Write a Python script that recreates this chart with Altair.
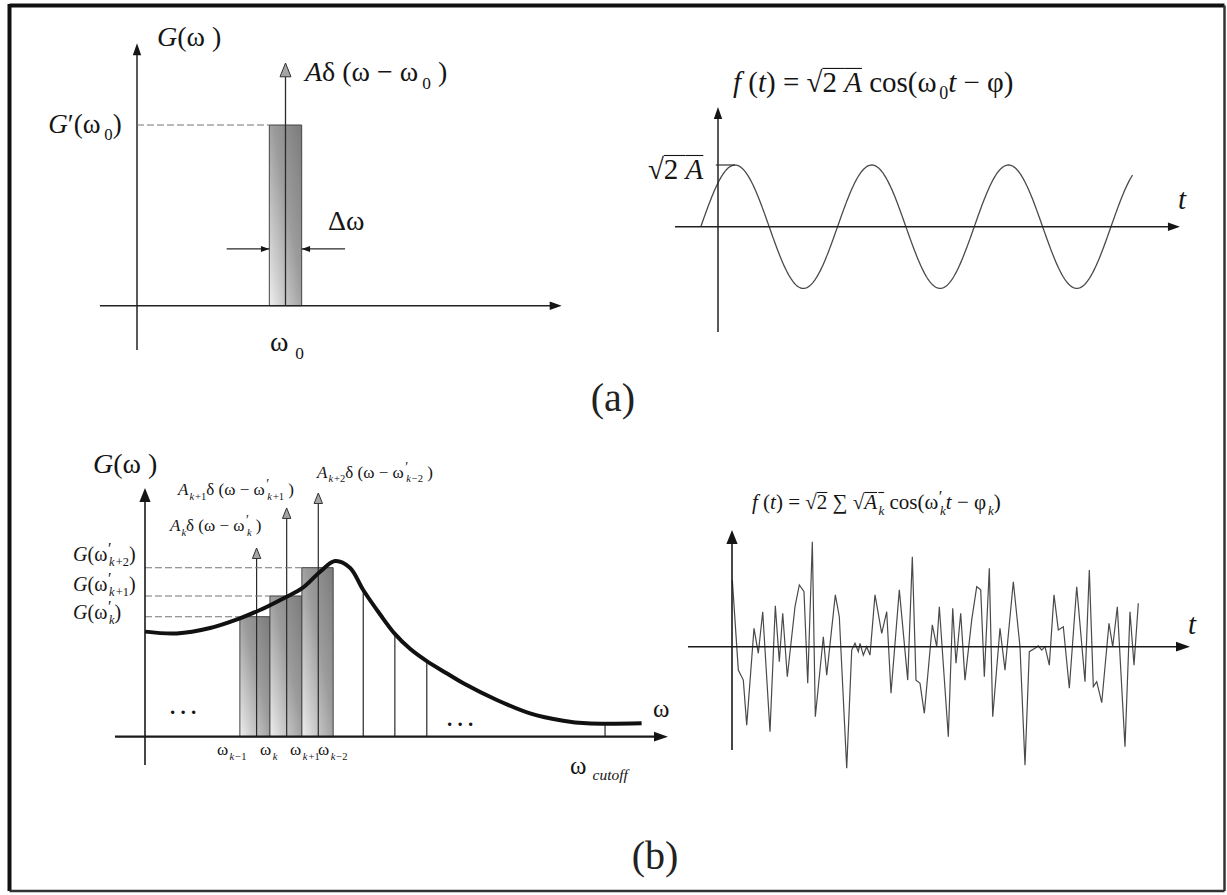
import altair as alt
import pandas as pd

FONT = "Liberation Serif, Tinos, Times New Roman, DejaVu Serif, serif"
INK = "#151515"

# ---------------- (a) left: spectral line of one harmonic ----------------
A_OMEGA0 = 1.0            # ω0
A_DOMEGA = 0.218          # Δω, band width around ω0
A_GPRIME = 1.0            # G'(ω0)
A_DELTA_TIP = 1.343       # top of the arrow Aδ(ω − ω0)
A_XAXIS = [-0.25, 2.86]
A_YAXIS = [-0.245, 1.453]
A_DW_LEVEL = 0.314        # height of the Δω markers
A_DW_TAILS = [0.604, 1.401]

# ---------------- (a) right: the harmonic in time ----------------
B_AMP = 1.0               # √2A
B_W0 = 1.0                # ω0
B_PHI = 0.781             # φ
B_T = [-0.79, 19.07]
B_XAXIS = [-1.976, 21.23]
B_YAXIS = [-1.707, 1.94]

# ---------------- (b) left: discretised spectral density ----------------
C_CURVE_W = [0.0, 1.02, 2.10, 3.06, 3.71, 4.57, 5.07, 5.65, 6.13, 6.61, 7.04, 7.58,
             8.06, 8.55, 9.09, 9.73, 10.27, 11.35, 12.42, 13.49, 14.25, 16.02]
C_CURVE_G = [0.598, 0.588, 0.619, 0.674, 0.721, 0.797, 0.845, 0.939, 1.000, 0.962, 0.835, 0.697,
             0.585, 0.500, 0.430, 0.361, 0.304, 0.209, 0.133, 0.091, 0.076, 0.076]
C_EDGES = [3.06, 4.03, 5.06, 6.07]           # ω_{k-1}, ω_k, ω_{k+1}, ω_{k-2}
C_BAR_G = [0.683, 0.801, 0.962]             # G(ω'_k), G(ω'_{k+1}), G(ω'_{k+2})
C_DELTA_W = [3.60, 4.57, 5.59]               # ω'_k, ω'_{k+1}, ω'_{k+2}
C_DELTA_TIP = [1.074, 1.302, 1.387]
C_STRIP_W = [7.04, 8.06, 9.09]
C_STRIP_G = [0.835, 0.585, 0.430]
C_CUTOFF = 14.84
C_CUTOFF_G = 0.076
C_XAXIS = [-0.968, 16.87]
C_YAXIS = [-0.161, 1.415]

# ---------------- (b) right: sample of the random signal ----------------
D_T = [0.08, 1.58, 2.83, 3.68, 5.5, 6.58, 7.68, 9.5, 10.83, 11.83, 12.68, 13.83, 15.75, 16.83,
       18.0, 18.93, 20.08, 20.83, 22.83, 23.68, 25.83, 26.83, 28.68, 29.93, 30.75, 31.58, 32.0,
       32.83, 33.68, 34.5, 35.75, 37.43, 38.68, 39.75, 41.83, 43.93, 45.08, 46.0, 47.0, 48.08,
       50.08, 51.18, 51.83, 54.08, 55.18, 56.0, 57.18, 58.25, 59.93, 61.18, 62.18, 63.08, 64.33,
       65.18, 67.0, 68.25, 70.33, 72.0, 73.25, 74.33, 75.75, 76.58, 77.43, 78.25, 79.33, 80.5,
       81.58, 82.83, 84.33, 86.18, 88.25, 89.33, 90.33, 91.18, 92.43, 94.25, 95.18, 96.33, 98.25,
       99.5, 100.5, 101.58]
D_F = [3.34, -1.17, -1.67, -3.92, 0.92, -0.33, 1.75, -4.25, 2.04, -0.75, 1.67, -1.5, 2.0, 3.09,
       2.75, -1.83, 5.25, -3.5, 0.5, -1.42, 2.59, 1.5, -6.08, -0.17, 0.17, -0.25, 0.17,
       -0.42, 0.0, -0.42, 2.59, 0.67, 1.75, -2.33, 2.84, -1.67, 4.5, -1.67, -1.83, -3.33,
       1.09, 0.0, 2.0, -4.5, 1.92, -0.83, 1.67, -1.67, 1.34, 3.0, 2.84, -1.5, 3.92,
       -3.5, 0.92, -1.17, 3.25, 0.0, -5.92, -0.25, -0.08, 0.04, -0.17, 0.0, -0.92, 2.59,
       0.84, 1.0, -2.08, 3.0, -1.75, 3.84, -2.0, -1.75, -2.8, 1.17, 0.0, 2.0, -5.0,
       1.75, -0.92, 2.17]
D_XAXIS = [-11.0, 114.5]
D_YAXIS = [-5.165, 5.835]

# where each sub-figure sits on the page: origin (px) and px per data unit
PANELS = {
    "page": dict(ox=0.0, oy=0.0, kx=1.0, ky=-1.0),
    "a1": dict(ox=137.0, oy=305.7, kx=148.5, ky=180.7),
    "a2": dict(ox=718.0, oy=226.7, kx=21.76, ky=61.7),
    "b1": dict(ox=145.0, oy=736.7, kx=31.0, ky=175.7),
    "b2": dict(ox=732.0, oy=646.7, kx=4.0, ky=20.0),
}

UP = "M0,0L-0.7,2L0.7,2Z"
RIGHT = "M0,0L-2,-0.7L-2,0.7Z"
LEFT = "M0,0L2,-0.7L2,0.7Z"
UP_WIDE = "M0,0L-0.8,2L0.8,2Z"


def xy(p, xf="x", yf="y"):
    q = PANELS[p]
    sx = alt.Scale(domain=[0, 1], range=[q["ox"], q["ox"] + q["kx"]], nice=False, zero=False)
    sy = alt.Scale(domain=[0, 1], range=[q["oy"], q["oy"] - q["ky"]], nice=False, zero=False)
    return dict(x=alt.X(f"{xf}:Q", scale=sx, axis=None), y=alt.Y(f"{yf}:Q", scale=sy, axis=None))


def segs(p, rows, **mark):
    df = pd.DataFrame(rows, columns=["x", "y", "x2", "y2"])
    enc = xy(p)
    enc["x2"] = alt.X2("x2:Q")
    enc["y2"] = alt.Y2("y2:Q")
    return alt.Chart(df).mark_rule(**mark).encode(**enc)


def heads(p, pts, shape, size, **mark):
    df = pd.DataFrame(pts, columns=["x", "y"])
    style = dict(color=INK, opacity=1)
    style.update(mark)
    return alt.Chart(df).mark_point(shape=shape, size=size, filled=True, **style).encode(**xy(p))


# advance widths (em) of the serif face, used to set formula pieces side by side
W_REG = {" ": 0.25, "(": 0.333, ")": 0.333, "G": 0.722, "A": 0.722, "ω": 0.686, "δ": 0.5,
         "Δ": 0.612, "−": 0.564, "=": 0.564, "+": 0.564, "0": 0.5, "1": 0.5, "2": 0.5,
         "k": 0.5, "√": 0.549, "∑": 0.713, "φ": 0.6, "c": 0.444, "o": 0.5, "s": 0.389,
         "u": 0.5, "t": 0.278, "f": 0.333, "′": 0.275, ".": 0.25, "a": 0.444, "b": 0.5}
W_IT = {"A": 0.611, "G": 0.722, "f": 0.278, "t": 0.278, "k": 0.444, "c": 0.444, "u": 0.5,
        "o": 0.5}


def adv(text, size, italic):
    tbl = W_IT if italic else W_REG
    return sum(tbl.get(c, W_REG.get(c, 0.5)) for c in text) * size


def formula(p, x, y, runs, size, align="left"):
    """Lay out (text, style) runs: i = italic, b = subscript, p = prime, o = overlined."""
    q = PANELS[p]
    pieces, cur = [], 0.0
    for text, style in runs:
        sub, prime = "b" in style, "p" in style
        s = size * 0.62 if sub else (size * 0.8 if prime else size)
        dy = size * 0.26 if sub else (-size * 0.36 if prime else 0.0)
        if sub:
            cur += size * 0.06
        body = text.strip(" ")
        lead = len(text) - len(text.lstrip(" "))
        trail = len(text) - len(text.rstrip(" "))
        cur += lead * 0.25 * s
        w = adv(body, s, "i" in style)
        pieces.append(dict(dx=cur, dy=dy, size=s, text=body, italic="i" in style,
                           over="o" in style, w=w + trail * 0.25 * s))
        if not prime:
            cur += w + trail * 0.25 * s
    shift = -cur if align == "right" else 0.0
    down = 0.30 * size
    rows, overs = [], []
    for pc in pieces:
        if pc["text"]:
            rows.append(dict(x=x + (pc["dx"] + shift) / q["kx"],
                             y=y - (down + pc["dy"]) / q["ky"],
                             text=pc["text"], size=pc["size"], italic=pc["italic"]))
        if pc["over"]:
            yo = y - (down - 0.80 * size) / q["ky"]
            overs.append((x + (pc["dx"] + shift) / q["kx"],
                          yo, x + (pc["dx"] + shift + pc["w"]) / q["kx"], yo))
    return rows, overs


def texts(p, labels):
    rows, overs = [], []
    for lab in labels:
        r, o = formula(p, *lab)
        rows += r
        overs += o
    df = pd.DataFrame(rows)
    layers = []
    for italic in (False, True):
        part = df[df["italic"] == italic]
        if len(part):
            layers.append(
                alt.Chart(part).mark_text(font=FONT, fontStyle="italic" if italic else "normal",
                                          align="left", baseline="alphabetic", color=INK)
                .encode(text="text:N", size=alt.Size("size:Q", scale=None, legend=None), **xy(p)))
    if overs:
        layers.append(segs(p, overs, color=INK, strokeWidth=1.1))
    return layers


SHADE = alt.Gradient(
    gradient="linear", x1=1, y1=0, x2=0, y2=1,
    stops=[alt.GradientStop(color="#7b7b7b", offset=0),
           alt.GradientStop(color="#9c9c9c", offset=0.45),
           alt.GradientStop(color="#cfcfcf", offset=0.8),
           alt.GradientStop(color="#eeeeee", offset=1)])

# ---------------- (a) left ----------------
lo, hi = A_OMEGA0 - A_DOMEGA / 2, A_OMEGA0 + A_DOMEGA / 2
a1_band = alt.Chart(pd.DataFrame({"x": [lo], "x2": [hi], "y": [0.0], "y2": [A_GPRIME]})).mark_rect(
    fill=SHADE, stroke="#444444", strokeWidth=1).encode(x2="x2:Q", y2="y2:Q", **xy("a1"))
a1 = [
    a1_band,
    segs("a1", [(A_XAXIS[0], 0, A_XAXIS[1] - 0.05, 0), (0, A_YAXIS[0], 0, A_YAXIS[1] - 0.04)],
         color="#222222", strokeWidth=1.5),
    segs("a1", [(A_OMEGA0, 0, A_OMEGA0, A_DELTA_TIP - 0.03),
                (A_DW_TAILS[0], A_DW_LEVEL, lo, A_DW_LEVEL),
                (A_DW_TAILS[1], A_DW_LEVEL, hi, A_DW_LEVEL)],
         color="#2a2a2a", strokeWidth=1.3),
    segs("a1", [(0, A_GPRIME, lo, A_GPRIME)], color="#777777", strokeWidth=1.1, strokeDash=[7, 3]),
    heads("a1", [(0, A_YAXIS[1])], UP, 144),
    heads("a1", [(A_XAXIS[1], 0)], RIGHT, 144),
    heads("a1", [(A_OMEGA0, A_DELTA_TIP)], UP_WIDE, 190, fill="#a5a5a5", stroke="#333333",
          strokeWidth=1),
    heads("a1", [(lo, A_DW_LEVEL)], RIGHT, 70),
    heads("a1", [(hi, A_DW_LEVEL)], LEFT, 70),
] + texts("a1", [
    (0.135, 1.481, [("G", "i"), ("(ω )", "")], 28),
    (1.131, 1.288, [("A", "i"), ("δ (ω − ω", ""), ("0", "b"), (" )", "")], 28),
    (-0.103, 1.0, [("G", "i"), ("′(ω", ""), ("0", "b"), (")", "")], 27, "right"),
    (1.286, 0.463, [("Δω", "")], 28),
    (0.896, -0.206, [("ω", ""), (" 0", "b")], 28),
])

# ---------------- (a) right ----------------
a2_wave = alt.Chart(alt.sequence(B_T[0], B_T[1], 0.04, as_="x")).transform_calculate(
    y=f"{B_AMP} * cos({B_W0} * datum.x - {B_PHI})"
).mark_line(color="#4a4a4a", strokeWidth=1.3).encode(**xy("a2"))
a2 = [
    a2_wave,
    segs("a2", [(B_XAXIS[0], 0, B_XAXIS[1] - 0.3, 0), (0, B_YAXIS[0], 0, B_YAXIS[1] - 0.1)],
         color="#222222", strokeWidth=1.5),
    segs("a2", [(-0.1, B_AMP, B_PHI / B_W0, B_AMP)], color="#333333", strokeWidth=1.2),
    heads("a2", [(0, B_YAXIS[1])], UP, 144),
    heads("a2", [(B_XAXIS[1], 0)], RIGHT, 144),
] + texts("a2", [
    (0.69, 2.33, [("f", "i"), (" (", ""), ("t", "i"), (") = ", ""), ("√", ""), ("2 ", "o"),
                  ("A", "io"), (" cos(ω", ""), ("0", "b"), ("t", "i"), (" − φ)", "")], 29),
    (-3.22, 0.919, [("√", ""), ("2 ", "o"), ("A", "io")], 29),
    (21.14, 0.43, [("t", "i")], 29),
])

# ---------------- (b) left ----------------
bars = pd.DataFrame({"x": C_EDGES[:-1], "x2": C_EDGES[1:], "y": [0.0] * 3, "y2": C_BAR_G})
b1_bars = alt.Chart(bars).mark_rect(fill=SHADE, stroke="#444444", strokeWidth=1).encode(
    x2="x2:Q", y2="y2:Q", **xy("b1"))
b1_curve = alt.Chart(pd.DataFrame({"x": C_CURVE_W, "y": C_CURVE_G})).mark_line(
    color="#111111", strokeWidth=4, interpolate="catmull-rom").encode(**xy("b1"))
b1 = [
    b1_bars,
    segs("b1", [(w, 0, w, g) for w, g in zip(C_STRIP_W, C_STRIP_G)] +
         [(C_CUTOFF, 0, C_CUTOFF, C_CUTOFF_G)] +
         [(w, 0, w, t - 0.02) for w, t in zip(C_DELTA_W, C_DELTA_TIP)],
         color="#2a2a2a", strokeWidth=1.2),
    segs("b1", [(0, g, e, g) for g, e in zip(C_BAR_G, C_EDGES)], color="#777777",
         strokeWidth=1.1, strokeDash=[7, 3]),
    b1_curve,
    segs("b1", [(C_XAXIS[0], 0, C_XAXIS[1] - 0.2, 0)], color="#1a1a1a", strokeWidth=2.2),
    segs("b1", [(0, C_YAXIS[0], 0, C_YAXIS[1] - 0.05)], color="#1a1a1a", strokeWidth=1.6),
    heads("b1", [(0, C_YAXIS[1])], UP_WIDE, 196),
    heads("b1", [(C_XAXIS[1], 0)], RIGHT, 196),
    heads("b1", list(zip(C_DELTA_W, C_DELTA_TIP)), UP_WIDE, 110, fill="#a5a5a5",
          stroke="#333333", strokeWidth=1),
    alt.Chart(pd.DataFrame({"x": [0.806, 9.74], "y": [0.163, 0.095], "text": [". . .", ". . ."]}))
    .mark_text(font=FONT, fontWeight="bold", fontSize=21, align="left", baseline="middle",
               color=INK)
    .encode(text="text:N", **xy("b1")),
] + texts("b1", [
    (-1.677, 1.546, [("G", "i"), ("(ω )", "")], 28),
    (-2.32, 1.034, [("G", "i"), ("(ω", ""), ("′", "p"), ("k", "ib"), ("+2", "b"), (")", "")], 20),
    (-2.32, 0.863, [("G", "i"), ("(ω", ""), ("′", "p"), ("k", "ib"), ("+1", "b"), (")", "")], 20),
    (-2.32, 0.704, [("G", "i"), ("(ω", ""), ("′", "p"), ("k", "ib"), (")", "")], 20),
    (0.806, 1.199, [("A", "i"), ("k", "ib"), ("δ (ω − ω", ""), ("′", "p"), ("k", "ib"),
                    (" )", "")], 17),
    (1.065, 1.404, [("A", "i"), ("k", "ib"), ("+1", "b"), ("δ (ω − ω", ""), ("′", "p"),
                    ("k", "ib"), ("+1", "b"), (" )", "")], 17),
    (5.548, 1.501, [("A", "i"), ("k", "ib"), ("+2", "b"), ("δ (ω − ω", ""), ("′", "p"),
                    ("k", "ib"), ("−2", "b"), (" )", "")], 17),
    (2.32, -0.076, [("ω", ""), ("k", "ib"), ("−1", "b")], 17),
    (3.71, -0.076, [("ω", ""), ("k", "ib")], 17),
    (4.68, -0.076, [("ω", ""), ("k", "ib"), ("+1", "b")], 17),
    (5.58, -0.076, [("ω", ""), ("k", "ib"), ("−2", "b")], 17),
    (16.39, 0.152, [("ω", "")], 25),
    (13.71, -0.167, [("ω", ""), (" cutoff", "ib")], 25),
])

# ---------------- (b) right ----------------
b2_sig = alt.Chart(pd.DataFrame({"x": D_T, "y": D_F})).mark_line(
    color="#4a4a4a", strokeWidth=1.2).encode(**xy("b2"))
b2 = [
    b2_sig,
    segs("b2", [(D_XAXIS[0], 0, D_XAXIS[1] - 2, 0), (0, D_YAXIS[0], 0, D_YAXIS[1] - 0.3)],
         color="#1a1a1a", strokeWidth=1.6),
    heads("b2", [(0, D_YAXIS[1])], UP_WIDE, 196),
    heads("b2", [(D_XAXIS[1], 0)], RIGHT, 196),
] + texts("b2", [
    (5.0, 7.185, [("f", "i"), (" (", ""), ("t", "i"), (") = ", ""), ("√", ""), ("2", "o"),
                  (" ∑ ", ""), ("√", ""), ("A", "io"), ("k", "ibo"), (" cos(ω", ""), ("′", "p"),
                  ("k", "ib"), ("t", "i"), (" − φ", ""), ("k", "ib"), (")", "")], 21),
    (114.0, 1.085, [("t", "i")], 29),
])

# ---------------- page: frame and captions ----------------
page = [
    segs("page", [(9.5, 5.5, 1224.5, 5.5), (9.5, 4.0, 9.5, 891.0)], color="#111111",
         strokeWidth=4),
    segs("page", [(1224.5, 5.5, 1224.5, 891.0), (9.5, 891.0, 1224.5, 891.0)],
         color="#333333", strokeWidth=2.5),
    alt.Chart(pd.DataFrame({"x": [613.0, 655.0], "y": [399.0, 857.0], "text": ["(a)", "(b)"]}))
    .mark_text(font=FONT, fontSize=40, align="center", baseline="middle", color="#222222")
    .encode(text="text:N", **xy("page")),
]

groups = [alt.layer(*g) for g in (page, a1, a2, b1, b2)]
chart = (
    alt.layer(*groups)
    .resolve_scale(x="independent", y="independent")
    .properties(width=1227, height=895, padding=0, background="white",
                autosize=alt.AutoSizeParams(type="none"))
    .configure_view(stroke=None)
)

chart.save("out.html", embed_options={"renderer": "svg", "actions": False})
